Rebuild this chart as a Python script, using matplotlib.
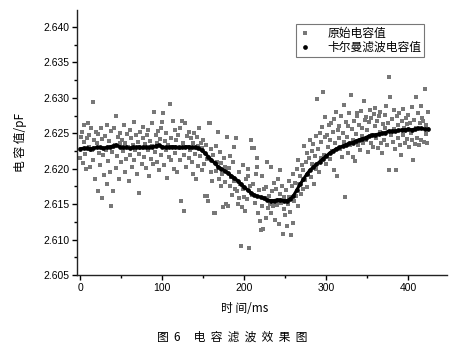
import numpy as np
import matplotlib
matplotlib.use('Agg')
import matplotlib.pyplot as plt
from matplotlib.ticker import MultipleLocator

plt.rcParams['font.family'] = ['Liberation Sans', 'Noto Sans CJK SC', 'DejaVu Sans']
CJK = ['Noto Sans CJK SC', 'DejaVu Sans']

# raw capacitance samples, one per ms (t = 0..424)
raw_vals = [
    2.6215, 2.6245, 2.6252, 2.6208, 2.6238, 2.6262, 2.6221, 2.6199, 2.6244, 2.6265,
    2.6231, 2.6248, 2.6203, 2.6257, 2.6226, 2.6294, 2.6212, 2.6240, 2.6185, 2.6252,
    2.6236, 2.6169, 2.6249, 2.6222, 2.6205, 2.6258, 2.6158, 2.6242, 2.6219, 2.6191,
    2.6246, 2.6227, 2.6178, 2.6262, 2.6211, 2.6239, 2.6195, 2.6253, 2.6148, 2.6224,
    2.6169, 2.6258, 2.6233, 2.6201, 2.6275, 2.6218, 2.6245, 2.6186, 2.6236, 2.6250,
    2.6209, 2.6241, 2.6225, 2.6262, 2.6196, 2.6237, 2.6214, 2.6249, 2.6230, 2.6182,
    2.6255, 2.6220, 2.6243, 2.6203, 2.6233, 2.6266, 2.6212, 2.6227, 2.6248, 2.6193,
    2.6238, 2.6221, 2.6166, 2.6252, 2.6229, 2.6207, 2.6244, 2.6259, 2.6217, 2.6235,
    2.6201, 2.6248, 2.6226, 2.6255, 2.6190, 2.6239, 2.6214, 2.6265, 2.6232, 2.6206,
    2.6280, 2.6223, 2.6247, 2.6210, 2.6236, 2.6253, 2.6198, 2.6242, 2.6219, 2.6258,
    2.6266, 2.6278, 2.6205, 2.6239, 2.6226, 2.6250, 2.6187, 2.6234, 2.6217, 2.6291,
    2.6244, 2.6212, 2.6231, 2.6268, 2.6200, 2.6255, 2.6222, 2.6240, 2.6195, 2.6248,
    2.6229, 2.6213, 2.6257, 2.6155, 2.6268, 2.6237, 2.6141, 2.6220, 2.6264, 2.6203,
    2.6246, 2.6231, 2.6215, 2.6252, 2.6226, 2.6243, 2.6209, 2.6236, 2.6193, 2.6250,
    2.6221, 2.6186, 2.6245, 2.6232, 2.6204, 2.6258, 2.6218, 2.6237, 2.6198, 2.6229,
    2.6241, 2.6207, 2.6162, 2.6233, 2.6162, 2.6214, 2.6155, 2.6265, 2.6264, 2.6196,
    2.6228, 2.6183, 2.6219, 2.6138, 2.6137, 2.6232, 2.6197, 2.6210, 2.6252, 2.6186,
    2.6224, 2.6175, 2.6208, 2.6192, 2.6146, 2.6215, 2.6181, 2.6203, 2.6150, 2.6245,
    2.6148, 2.6201, 2.6176, 2.6218, 2.6189, 2.6163, 2.6209, 2.6182, 2.6230, 2.6171,
    2.6243, 2.6168, 2.6150, 2.6196, 2.6158, 2.6178, 2.6091, 2.6146, 2.6205, 2.6172,
    2.6160, 2.6140, 2.6186, 2.6157, 2.6199, 2.6190, 2.6088, 2.6175, 2.6241, 2.6163,
    2.6229, 2.6178, 2.6229, 2.6152, 2.6193, 2.6202, 2.6215, 2.6138, 2.6170, 2.6126,
    2.6114, 2.6190, 2.6148, 2.6115, 2.6172, 2.6159, 2.6174, 2.6131, 2.6209, 2.6145,
    2.6162, 2.6150, 2.6202, 2.6138, 2.6168, 2.6147, 2.6180, 2.6155, 2.6128, 2.6171,
    2.6149, 2.6185, 2.6122, 2.6164, 2.6198, 2.6152, 2.6176, 2.6108, 2.6160, 2.6143,
    2.6134, 2.6170, 2.6119, 2.6150, 2.6182, 2.6160, 2.6139, 2.6107, 2.6175, 2.6124,
    2.6193, 2.6155, 2.6180, 2.6162, 2.6200, 2.6148, 2.6212, 2.6178, 2.6190, 2.6165,
    2.6205, 2.6171, 2.6198, 2.6232, 2.6184, 2.6210, 2.6174, 2.6222, 2.6193, 2.6215,
    2.6240, 2.6188, 2.6225, 2.6206, 2.6235, 2.6179, 2.6218, 2.6246, 2.6200, 2.6299,
    2.6228, 2.6195, 2.6250, 2.6215, 2.6238, 2.6259, 2.6308, 2.6220, 2.6245, 2.6273,
    2.6207, 2.6248, 2.6231, 2.6262, 2.6214, 2.6240, 2.6264, 2.6225, 2.6252, 2.6198,
    2.6270, 2.6236, 2.6280, 2.6190, 2.6255, 2.6243, 2.6260, 2.6228, 2.6274, 2.6216,
    2.6250, 2.6290, 2.6238, 2.6160, 2.6266, 2.6245, 2.6222, 2.6260, 2.6279, 2.6234,
    2.6304, 2.6256, 2.6216, 2.6240, 2.6268, 2.6211, 2.6249, 2.6275, 2.6278, 2.6233,
    2.6262, 2.6227, 2.6281, 2.6246, 2.6258, 2.6236, 2.6296, 2.6269, 2.6240, 2.6273,
    2.6255, 2.6224, 2.6266, 2.6283, 2.6237, 2.6271, 2.6248, 2.6230, 2.6277, 2.6260,
    2.6285, 2.6243, 2.6268, 2.6229, 2.6274, 2.6252, 2.6280, 2.6236, 2.6222, 2.6263,
    2.6240, 2.6276, 2.6258, 2.6288, 2.6233, 2.6265, 2.6198, 2.6330, 2.6301, 2.6247,
    2.6270, 2.6238, 2.6283, 2.6256, 2.6228, 2.6198, 2.6274, 2.6262, 2.6243, 2.6279,
    2.6233, 2.6220, 2.6268, 2.6248, 2.6284, 2.6257, 2.6237, 2.6272, 2.6263, 2.6242,
    2.6276, 2.6231, 2.6265, 2.6250, 2.6287, 2.6240, 2.6212, 2.6269, 2.6235, 2.6301,
    2.6258, 2.6244, 2.6278, 2.6233, 2.6265, 2.6289, 2.6241, 2.6272, 2.6268, 2.6238,
    2.6312, 2.6249, 2.6262, 2.6236, 2.6280,
]
raw_t = np.arange(len(raw_vals))

# kalman filtered values, every 4 ms (t = 0..424)
kal_vals = [
    2.6228, 2.6229, 2.6229, 2.6228, 2.6229, 2.6230, 2.6230, 2.6229, 2.6230, 2.6231,
    2.6232, 2.6233, 2.6231, 2.6230, 2.6230, 2.6229, 2.6230, 2.6230, 2.6231, 2.6230,
    2.6230, 2.6230, 2.6231, 2.6232, 2.6233, 2.6231, 2.6230, 2.6230, 2.6231, 2.6231,
    2.6230, 2.6230, 2.6231, 2.6231, 2.6230, 2.6230, 2.6229,
    2.6226, 2.6222, 2.6217, 2.6212, 2.6208, 2.6203, 2.6200, 2.6197, 2.6194, 2.6190,
    2.6187, 2.6183, 2.6178, 2.6174, 2.6170, 2.6166, 2.6163, 2.6161, 2.6160, 2.6158,
    2.6156, 2.6155, 2.6155, 2.6156, 2.6156, 2.6155, 2.6155, 2.6157, 2.6162, 2.6170,
    2.6178, 2.6185, 2.6192, 2.6198, 2.6202, 2.6206, 2.6210, 2.6214, 2.6218, 2.6222,
    2.6225, 2.6228, 2.6230, 2.6232, 2.6234, 2.6236, 2.6237, 2.6239, 2.6241, 2.6242,
    2.6244, 2.6246, 2.6247, 2.6248, 2.6249, 2.6250, 2.6251, 2.6253, 2.6253, 2.6253,
    2.6254, 2.6255, 2.6255, 2.6256, 2.6255, 2.6256, 2.6257, 2.6257, 2.6256, 2.6256,
]
kal_t = np.arange(len(kal_vals)) * 4

fig = plt.figure(figsize=(4.64, 3.51), dpi=100)
ax = fig.add_axes([0.166, 0.2165, 0.797, 0.755])

ax.plot(raw_t, raw_vals, 's', color='#777777', markersize=2.2, markeredgewidth=0,
        label='原始电容值')
ax.plot(kal_t, kal_vals, '-o', color='black', lw=2.2, markersize=3.4, markeredgewidth=0,
        label='卡尔曼滤波电容值')

ax.set_xlim(-4, 447)
ax.set_ylim(2.605, 2.6424)
ax.xaxis.set_major_locator(MultipleLocator(100))
ax.xaxis.set_minor_locator(MultipleLocator(50))
ax.yaxis.set_major_locator(MultipleLocator(0.005))
ax.yaxis.set_minor_locator(MultipleLocator(0.0025))
ax.yaxis.set_major_formatter(plt.FormatStrFormatter('%.3f'))

for s in ['top', 'right']:
    ax.spines[s].set_visible(False)
for s in ['left', 'bottom']:
    ax.spines[s].set_linewidth(1.0)
    ax.spines[s].set_color('#222222')
ax.tick_params(which='major', direction='out', length=3.5, width=1, labelsize=7.5, pad=2)
ax.tick_params(which='minor', direction='out', length=2, width=1)

ax.set_ylabel('电 容 值/pF', family=CJK, fontsize=8.5, labelpad=12)

leg = ax.legend(loc='upper right', bbox_to_anchor=(0.955, 0.97), prop={'family': CJK, 'size': 8.5},
                frameon=True, fancybox=False, edgecolor='#555555', borderpad=0.25,
                labelspacing=0.1, handlelength=1.0, handletextpad=1.4, markerscale=1.0)
leg.get_frame().set_linewidth(0.8)
# legend handles: markers only
for h in leg.legend_handles:
    h.set_linestyle('None')

fig.text(245 / 464, 1 - 309 / 351, '时 间/ms', family=CJK, fontsize=8.5, ha='center', va='center')
fig.text(232 / 464, 1 - 337 / 351, '图  6     电  容  滤  波  效  果  图', family=CJK, fontsize=8.5,
         ha='center', va='center')

fig.savefig('out.png', dpi=100)
